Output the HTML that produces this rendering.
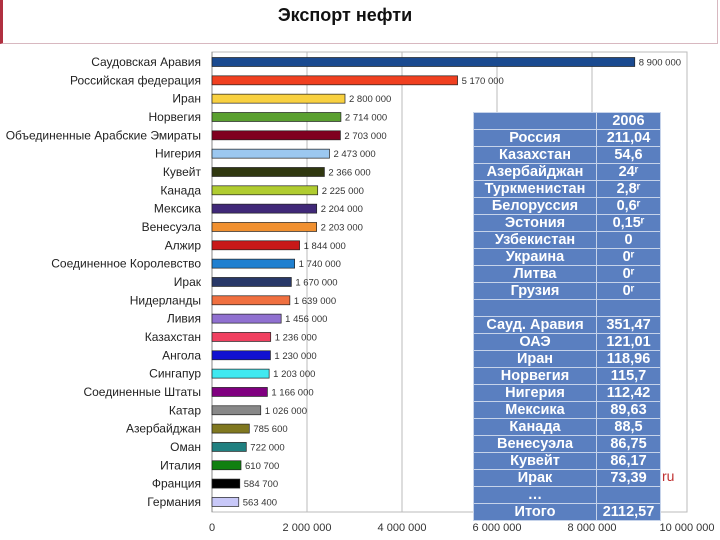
<!DOCTYPE html>
<html><head><meta charset="utf-8"><style>
body{margin:0;width:720px;height:540px;overflow:hidden;background:#fff;font-family:"Liberation Sans","Noto Sans CJK SC",sans-serif;position:relative}
#frame{position:absolute;left:0;top:0;width:718px;height:44px;border:1px solid #d8b8c0;border-left:3px solid #b03040;border-top:none;box-sizing:border-box}
#title{position:absolute;left:0;width:690px;top:5px;text-align:center;font-weight:bold;font-size:18px;color:#111}
table{position:absolute;left:473px;top:112px;border-collapse:collapse;width:188px}
td{background:#5a7fc0;color:#fff;font-weight:bold;font-size:14.5px;text-align:center;height:16px;padding:0;border:1px solid #c6d3ea;line-height:16px;white-space:nowrap}
#ru{position:absolute;left:662px;top:468px;color:#c03030;font-size:14px}
</style></head><body>
<div id="frame"></div>
<div id="title">Экспорт нефти</div>
<svg id="chart" width="720" height="540" style="position:absolute;left:0;top:0"></svg>
<table>
<tr><td style="width:122px"></td><td>2006</td></tr>
<tr><td>Россия</td><td>211,04</td></tr>
<tr><td>Казахстан</td><td>54,6</td></tr>
<tr><td>Азербайджан</td><td>24ʳ</td></tr>
<tr><td>Туркменистан</td><td>2,8ʳ</td></tr>
<tr><td>Белоруссия</td><td>0,6ʳ</td></tr>
<tr><td>Эстония</td><td>0,15ʳ</td></tr>
<tr><td>Узбекистан</td><td>0</td></tr>
<tr><td>Украина</td><td>0ʳ</td></tr>
<tr><td>Литва</td><td>0ʳ</td></tr>
<tr><td>Грузия</td><td>0ʳ</td></tr>
<tr><td></td><td></td></tr>
<tr><td>Сауд. Аравия</td><td>351,47</td></tr>
<tr><td>ОАЭ</td><td>121,01</td></tr>
<tr><td>Иран</td><td>118,96</td></tr>
<tr><td>Норвегия</td><td>115,7</td></tr>
<tr><td>Нигерия</td><td>112,42</td></tr>
<tr><td>Мексика</td><td>89,63</td></tr>
<tr><td>Канада</td><td>88,5</td></tr>
<tr><td>Венесуэла</td><td>86,75</td></tr>
<tr><td>Кувейт</td><td>86,17</td></tr>
<tr><td>Ирак</td><td>73,39</td></tr>
<tr><td>…</td><td></td></tr>
<tr><td>Итого</td><td>2112,57</td></tr>
</table>
<div id="ru">ru</div>
<script>
const categories=["Саудовская Аравия","Российская федерация","Иран","Норвегия","Объединенные Арабские Эмираты","Нигерия","Кувейт","Канада","Мексика","Венесуэла","Алжир","Соединенное Королевство","Ирак","Нидерланды","Ливия","Казахстан","Ангола","Сингапур","Соединенные Штаты","Катар","Азербайджан","Оман","Италия","Франция","Германия"];
const values=[8900000,5170000,2800000,2714000,2703000,2473000,2366000,2225000,2204000,2203000,1844000,1740000,1670000,1639000,1456000,1236000,1230000,1203000,1166000,1026000,785600,722000,610700,584700,563400];
const valueLabels=["8 900 000","5 170 000","2 800 000","2 714 000","2 703 000","2 473 000","2 366 000","2 225 000","2 204 000","2 203 000","1 844 000","1 740 000","1 670 000","1 639 000","1 456 000","1 236 000","1 230 000","1 203 000","1 166 000","1 026 000","785 600","722 000","610 700","584 700","563 400"];
const colors=["#1a4a90","#f04020","#f8d040","#5aa030","#800020","#9cc8f0","#303810","#b0cc30","#402878","#f09030","#c81818","#2080d0","#283868","#f07040","#9070d0","#f04060","#1010d0","#40e8f0","#800080","#888888","#807820","#208080","#108010","#000000","#c8c8f8"];
const ticks=[0,2000000,4000000,6000000,8000000,10000000];
const tickLabels=["0","2 000 000","4 000 000","6 000 000","8 000 000","10 000 000"];
const NS="http://www.w3.org/2000/svg",svg=document.getElementById("chart");
const x=v=>212+v/10000000*475, y=i=>62+i*18.33;
function mk(t,a,txt){const e=document.createElementNS(NS,t);for(const k in a)e.setAttribute(k,a[k]);if(txt!=null)e.textContent=txt;svg.appendChild(e);return e;}
let b=mk("rect",{x:212,y:52,width:475,height:460,fill:"none",stroke:"#bbb"});


ticks.forEach((t,i)=>{
 if(i>0&&i<ticks.length-1){let g=mk("line",{x1:x(t),x2:x(t),y1:52,y2:512,stroke:"#bbb"});
 
 }
 let l=mk("text",{x:x(t),y:531,"font-size":11,"text-anchor":"middle",fill:"#333"},tickLabels[i]);
 
 
});
let ax=mk("line",{x1:212,x2:212,y1:52,y2:512,stroke:"#888"});


categories.forEach((c,i)=>{
 let r=mk("rect",{x:212,y:y(i)-4.5,width:x(values[i])-212,height:9,fill:colors[i],stroke:"#222","stroke-width":0.7});
 
 
 let t=mk("text",{x:201,y:y(i)+4,"font-size":12,"text-anchor":"end",fill:"#222"},c);
 
 
 let v=mk("text",{x:x(values[i])+4,y:y(i)+3.5,"font-size":9.5,fill:"#333"},valueLabels[i]);
 
 
});
</script>
</body></html>
